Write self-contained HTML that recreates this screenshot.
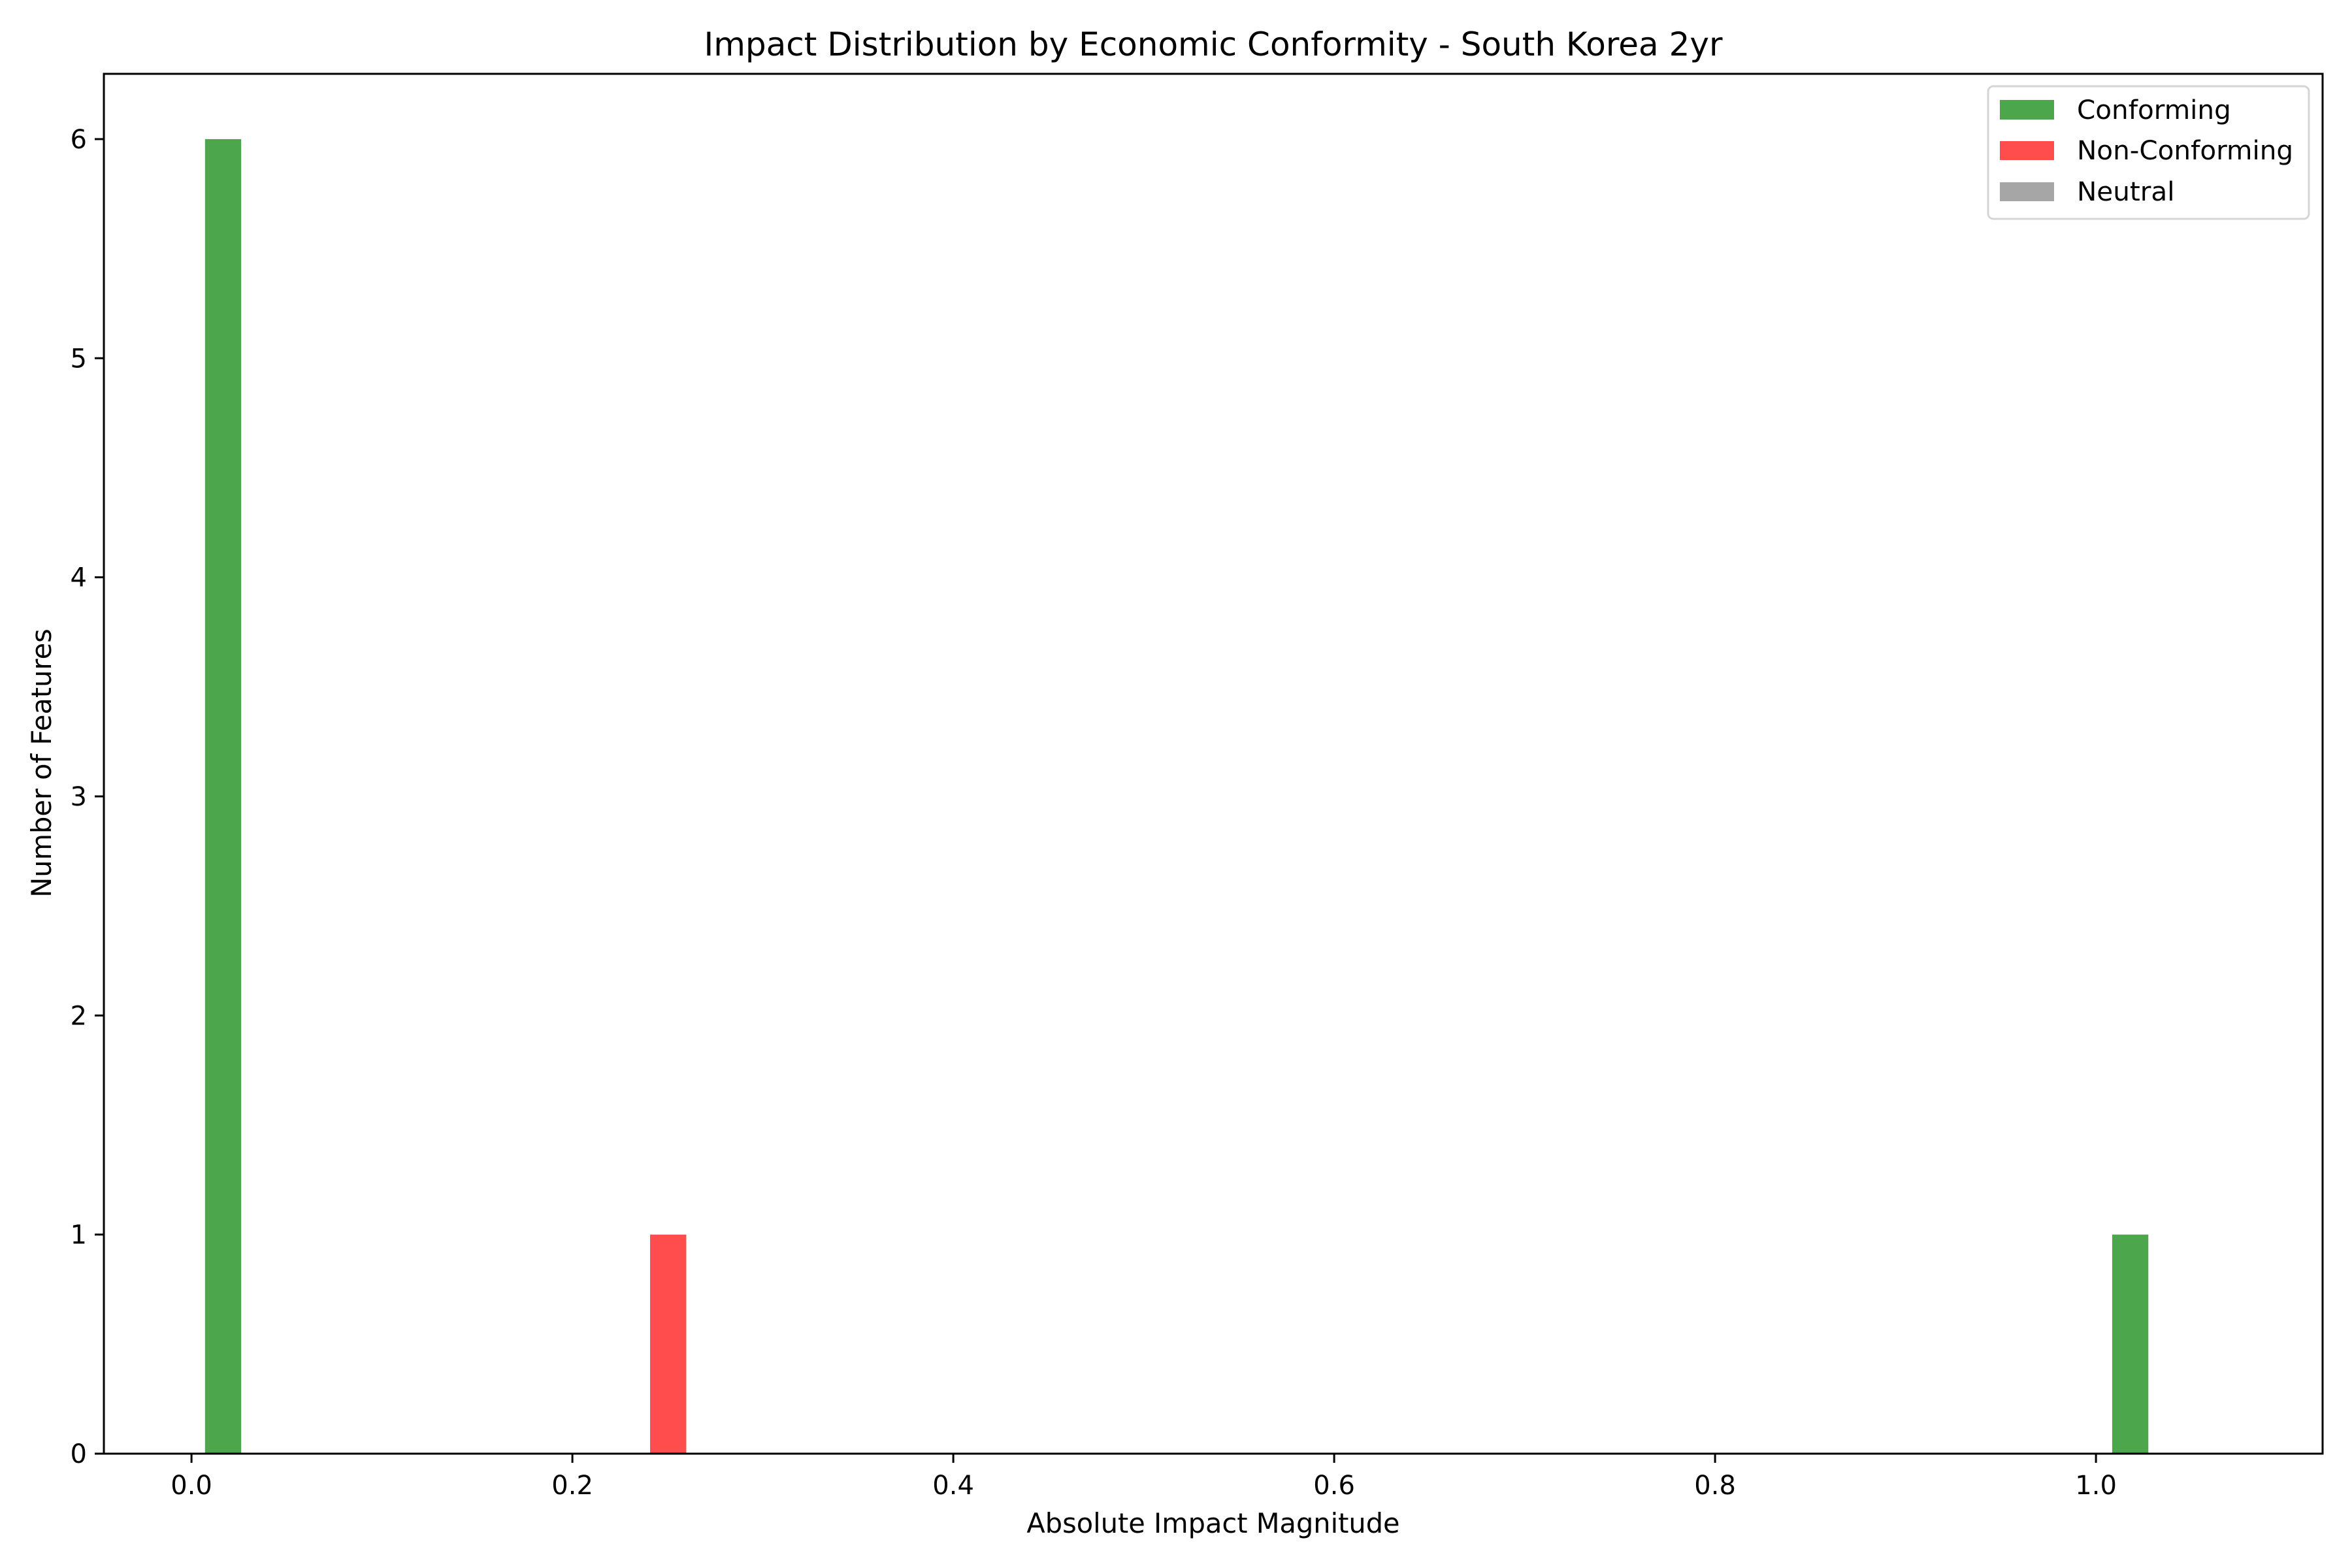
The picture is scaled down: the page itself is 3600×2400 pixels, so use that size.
<!DOCTYPE html>
<html><head><meta charset="utf-8"><style>
html,body{margin:0;padding:0;background:#fff;}
svg{display:block;font-family:"DejaVu Sans","Liberation Sans",sans-serif;}
</style></head><body>
<svg id="chart" width="3600" height="2400" viewBox="0 0 3600 2400">
<rect width="3600" height="2400" fill="#fff"/>
<text x="1857" y="85" font-size="50" text-anchor="middle">Impact Distribution by Economic Conformity - South Korea 2yr</text>
<g id="bars"></g>
<g id="axes"></g>
<text x="1857" y="2346" font-size="41.5" text-anchor="middle">Absolute Impact Magnitude</text>
<text transform="translate(78,1168) rotate(-90)" font-size="41.5" text-anchor="middle">Number of Features</text>
<g>
<rect x="3043" y="132" width="491" height="203" rx="8" fill="#fff" fill-opacity="0.8" stroke="#d5d5d5" stroke-width="3"/>
<g><rect x="3061" y="153" width="83" height="30" fill="#4ca64c"/><text x="3179" y="182" font-size="40.5">Conforming</text></g>
<g><rect x="3061" y="216" width="83" height="29" fill="#ff4c4c"/><text x="3179" y="244" font-size="40.5">Non-Conforming</text></g>
<g><rect x="3061" y="279" width="83" height="29" fill="#a6a6a6"/><text x="3179" y="307" font-size="40.5">Neutral</text></g>
</g>
</svg>
<script>
const conformingX = [0.0166, 1.018];
const conformingCount = [6, 1];
const nonConformingX = [0.2503];
const nonConformingCount = [1];
const neutralX = [];
const neutralCount = [];
const barWidth = 0.019;
const xTicks = [0, 0.2, 0.4, 0.6, 0.8, 1.0];
const xTickLabels = ["0.0", "0.2", "0.4", "0.6", "0.8", "1.0"];
const yTicks = [0, 1, 2, 3, 4, 5, 6];

const L = 159, R = 3555, T = 113, B = 2225;
const xMin = -0.046, xMax = 1.119, yMin = 0, yMax = 6.298;
const sx = v => L + (v - xMin) / (xMax - xMin) * (R - L);
const sy = v => B - (v - yMin) / (yMax - yMin) * (B - T);
const NS = "http://www.w3.org/2000/svg";
const bars = document.getElementById('bars');
const axes = document.getElementById('axes');
function mk(tag, attrs, parent) {
  const e = document.createElementNS(NS, tag);
  for (const k in attrs) e.setAttribute(k, attrs[k]);
  parent.appendChild(e);
  return e;
}
function drawSeries(xs, cs, color, name) {
  xs.forEach((x, i) => {
    const r = mk('rect', {x: sx(x - barWidth / 2), y: sy(cs[i]), width: sx(x + barWidth / 2) - sx(x - barWidth / 2), height: sy(0) - sy(cs[i]), fill: color}, bars);
    
    
  });
}
drawSeries(conformingX, conformingCount, '#4ca64c', 'conforming');
drawSeries(nonConformingX, nonConformingCount, '#ff4c4c', 'non-conforming');
drawSeries(neutralX, neutralCount, '#a6a6a6', 'neutral');

xTicks.forEach((v, i) => {
  const g = mk('g', {}, axes);
  
  
  mk('line', {x1: sx(v), x2: sx(v), y1: B, y2: B + 14, stroke: '#000', 'stroke-width': 3}, g);
  const t = mk('text', {x: sx(v), y: B + 62, 'font-size': 40, 'text-anchor': 'middle'}, g);
  t.textContent = xTickLabels[i];
});
yTicks.forEach(v => {
  const g = mk('g', {}, axes);
  
  
  mk('line', {x1: L - 14, x2: L, y1: sy(v), y2: sy(v), stroke: '#000', 'stroke-width': 3}, g);
  const t = mk('text', {x: L - 26, y: sy(v) + 14, 'font-size': 40, 'text-anchor': 'end'}, g);
  t.textContent = String(v);
});
const frame = mk('rect', {x: L, y: T, width: R - L, height: B - T, fill: 'none', stroke: '#000', 'stroke-width': 3}, axes);


</script>
</body></html>
